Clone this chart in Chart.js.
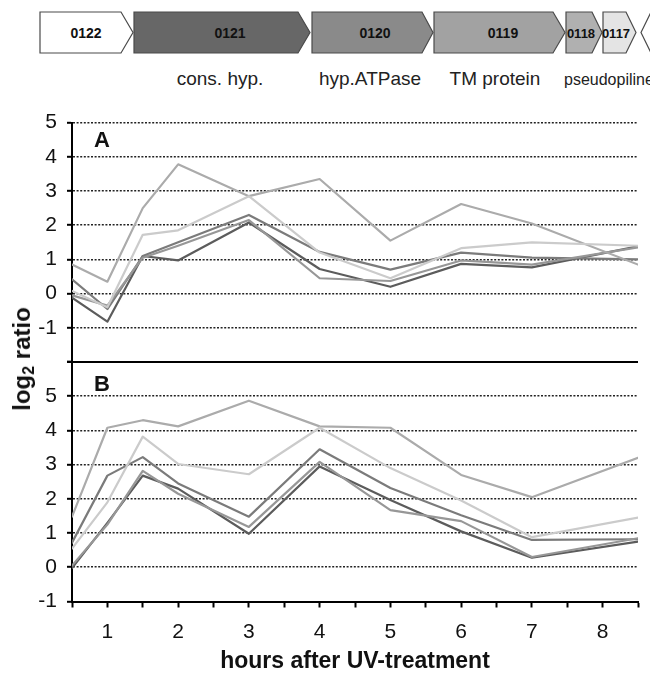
<!DOCTYPE html>
<html><head><meta charset="utf-8">
<script src="https://cdn.jsdelivr.net/npm/chart.js@4.4.1/dist/chart.umd.min.js"></script>
<style>
html,body{margin:0;padding:0;background:#fff;width:650px;height:673px;overflow:hidden;font-family:"Liberation Sans",Arial,sans-serif;}
#wrap{position:relative;width:650px;height:673px;}
#c{position:absolute;left:0;top:100px;}
.panel{position:absolute;font-weight:bold;font-size:22px;line-height:22px;color:#111;}
#ytitle{position:absolute;left:22px;top:359px;transform:translate(-50%,-50%) rotate(-90deg);font-weight:bold;font-size:24px;white-space:nowrap;color:#111;line-height:24px;}
#ytitle sub{font-size:16px;vertical-align:-4px;line-height:0;}
svg{position:absolute;left:0;top:0;}
</style></head>
<body><div id="wrap">
<svg width="650" height="100">
  <g stroke="#4a4a4a" stroke-width="1.2">
    <polygon points="40,12 121,12 133,32.5 121,53 40,53" fill="#ffffff"/>
    <polygon points="134,12 298,12 310,32.5 298,53 134,53" fill="#676767"/>
    <polygon points="312,12 422,12 433,32.5 422,53 312,53" fill="#8a8a8a"/>
    <polygon points="434,12 553,12 565,32.5 553,53 434,53" fill="#a2a2a2"/>
    <polygon points="566,12 592,12 602,32.5 592,53 566,53" fill="#b0b0b0"/>
    <polygon points="603,12 626,12 636,32.5 626,53 603,53" fill="#e4e4e4"/>
    <polygon points="651,12 641,32.5 651,53" fill="#ffffff"/>
  </g>
  <g font-family="Liberation Sans, Arial, sans-serif" font-weight="bold" font-size="14" text-anchor="middle" fill="#111">
    <text x="86" y="38">0122</text>
    <text x="230" y="38">0121</text>
    <text x="375" y="38">0120</text>
    <text x="503" y="38">0119</text>
    <text x="581" y="38" font-size="13">0118</text>
    <text x="616" y="38" font-size="13">0117</text>
  </g>
  <g font-family="Liberation Sans, Arial, sans-serif" font-size="19" fill="#222">
    <text x="220" y="85" text-anchor="middle">cons. hyp.</text>
    <text x="370" y="85" text-anchor="middle">hyp.ATPase</text>
    <text x="495" y="85" text-anchor="middle">TM protein</text>
    <text x="564" y="85" font-size="16">pseudopiline</text>
  </g>
</svg>
<canvas id="c" width="650" height="573"></canvas>
<div class="panel" style="left:94px;top:129px;">A</div>
<div class="panel" style="left:94px;top:373px;">B</div>
<div id="ytitle">log<sub>2</sub> ratio</div>
</div>
<script>
// sampling times (hours after UV treatment)
const hours = [0.5, 1, 1.5, 2, 3, 4, 5, 6, 7, 8.5];
const genes = ['0121', '0120', '0119', '0118', '0117'];
const geneColors = ['#5c5c5c', '#7b7b7b', '#979797', '#ababab', '#cbcbcb'];

// Panel A values (log2 ratio)
const a0121 = [-0.12, -0.82, 1.10, 0.97, 2.08, 0.72, 0.20, 0.87, 0.77, 1.38];
const a0120 = [0.42, -0.45, 1.10, 1.50, 2.30, 1.22, 0.70, 1.20, 1.05, 1.00];
const a0119 = [-0.05, -0.35, 1.05, 1.40, 2.15, 0.45, 0.37, 0.97, 0.85, 1.35];
const a0118 = [0.85, 0.35, 2.50, 3.78, 2.85, 3.35, 1.55, 2.62, 2.05, 0.85];
const a0117 = [0.08, -0.40, 1.72, 1.85, 2.85, 1.20, 0.45, 1.33, 1.50, 1.40];

// Panel B values (log2 ratio)
const b0121 = [-0.02, 1.30, 2.68, 2.30, 0.98, 2.95, 1.97, 1.05, 0.28, 0.75];
const b0120 = [0.72, 2.68, 3.22, 2.45, 1.48, 3.45, 2.32, 1.52, 0.80, 0.82];
const b0119 = [0.05, 1.25, 2.82, 2.15, 1.18, 3.08, 1.67, 1.35, 0.30, 0.85];
const b0118 = [1.48, 4.08, 4.30, 4.12, 4.87, 4.12, 4.08, 2.70, 2.05, 3.20];
const b0117 = [0.55, 1.90, 3.82, 3.02, 2.72, 4.08, 2.90, 1.95, 0.88, 1.45];

const xTickLabels = ['1', '2', '3', '4', '5', '6', '7', '8'];

const FONT = 'Liberation Sans, Arial, sans-serif';

function toPoints(vals) { return vals.map((v, i) => ({ x: hours[i], y: v })); }

function buildDatasets(seriesList, axisId) {
  const order = [4, 3, 2, 1, 0];
  return order.map(i => ({
    label: genes[i] + ' ' + axisId,
    data: toPoints(seriesList[i]),
    yAxisID: axisId,
    borderColor: geneColors[i],
    borderWidth: 2.2,
    pointRadius: 0,
    tension: 0,
    fill: false
  }));
}

function yAxis(min, max, hidden) {
  return {
    type: 'linear', min: min, max: max,
    position: 'left', stack: 'panels', stackWeight: 1,
    afterFit: s => { s.width = 72; },
    ticks: {
      stepSize: 1, autoSkip: false, maxTicksLimit: 20, padding: 10, color: '#111',
      font: { size: 21, family: FONT },
      callback: v => (v === hidden ? '' : String(v))
    },
    grid: {
      color: c => (c.tick && c.tick.value === hidden) ? 'rgba(0,0,0,0)' : '#222',
      lineWidth: 1.6, drawTicks: true, tickLength: 5,
      tickColor: '#000', tickWidth: 2, tickBorderDash: []
    },
    border: { display: true, color: '#000', width: 2, dash: [2, 1.6] }
  };
}

// solid separator between panel A and panel B, drawn at panel A's minimum
const separator = {
  id: 'separator',
  afterDraw(chart) {
    const y = chart.scales.yA;
    const py = y.getPixelForValue(y.min);
    const ctx = chart.ctx;
    ctx.save();
    ctx.strokeStyle = '#000';
    ctx.lineWidth = 2;
    ctx.beginPath();
    ctx.moveTo(chart.chartArea.left - 5, py);
    ctx.lineTo(chart.chartArea.right, py);
    ctx.stroke();
    ctx.restore();
  }
};

new Chart(document.getElementById('c'), {
  type: 'line',
  data: {
    datasets: buildDatasets([a0121, a0120, a0119, a0118, a0117], 'yA')
      .concat(buildDatasets([b0121, b0120, b0119, b0118, b0117], 'yB'))
  },
  plugins: [separator],
  options: {
    responsive: false, animation: false, devicePixelRatio: 1,
    plugins: { legend: { display: false }, tooltip: { enabled: false } },
    elements: { line: { borderCapStyle: 'round', borderJoinStyle: 'round' } },
    layout: { padding: { left: 0, right: 5, top: 16, bottom: 0 } },
    scales: {
      x: {
        type: 'linear', min: 0.5, max: 8.5,
        afterFit: s => { s.height = 71.5; },
        ticks: {
          stepSize: 0.5, autoSkip: false, maxRotation: 0, padding: 12,
          color: '#111', font: { size: 21, family: FONT },
          callback: v => (Number.isInteger(v) ? xTickLabels[v - 1] : '')
        },
        grid: {
          display: true, drawOnChartArea: false, drawTicks: true,
          tickLength: 6, tickColor: '#000', tickWidth: 2
        },
        border: { display: true, color: '#000', width: 2 },
        title: {
          display: true, text: 'hours after UV-treatment', color: '#111',
          font: { size: 23, weight: 'bold', family: FONT, lineHeight: 1 },
          padding: { top: 0, bottom: 0 }
        }
      },
      // in a left stack the first scale defined sits at the bottom
      yB: yAxis(-1, 6, 6),
      yA: yAxis(-2, 5, -2)
    }
  }
});
</script>
</body></html>
